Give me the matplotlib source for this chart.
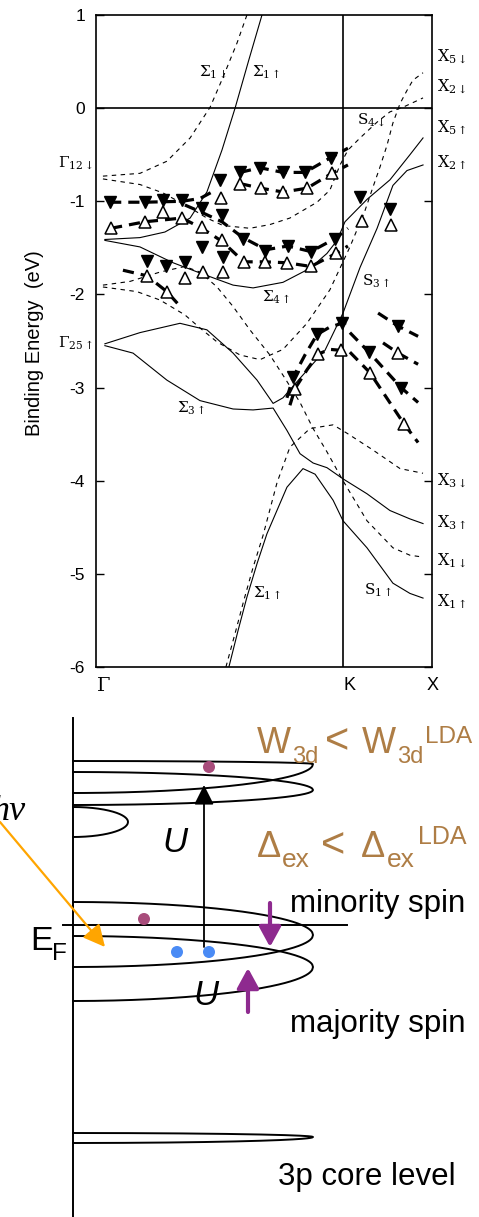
import numpy as np
import matplotlib.pyplot as plt

plt.rcParams['font.family'] = ['Liberation Sans', 'DejaVu Sans']

# ---- band structure data (k: Gamma=0, K=1 ; binding energy in eV) ----
# majority (solid) bands
sig1_k = [0.036, 0.178, 0.279, 0.381, 0.449, 0.510, 0.563, 0.619, 0.672]
sig1_E = [-1.41, -1.39, -1.33, -1.18, -0.90, -0.45, 0.00, 0.52, 1.00]
sig4_k = [0.036, 0.178, 0.312, 0.421, 0.555, 0.636, 0.757, 0.866, 0.935, 0.976, 1.008, 1.097, 1.190, 1.271, 1.324]
sig4_E = [-1.42, -1.49, -1.66, -1.77, -1.90, -1.93, -1.87, -1.72, -1.56, -1.42, -1.22, -0.98, -0.77, -0.50, -0.32]
sig3a_k = [0.036, 0.178, 0.340, 0.449, 0.555, 0.652, 0.717, 0.757, 0.826, 0.927, 1.0, 1.069, 1.138, 1.202, 1.259, 1.324]
sig3a_E = [-2.53, -2.41, -2.31, -2.38, -2.63, -2.92, -3.17, -3.11, -2.90, -2.60, -2.20, -1.71, -1.29, -0.83, -0.67, -0.61]
sig3b_k = [0.036, 0.150, 0.287, 0.421, 0.555, 0.636, 0.717, 0.773, 0.826, 0.879, 0.935, 1.0, 1.097, 1.190, 1.271, 1.324]
sig3b_E = [-2.55, -2.63, -2.92, -3.14, -3.23, -3.24, -3.22, -3.46, -3.71, -3.81, -3.86, -3.98, -4.14, -4.32, -4.41, -4.46]
sig1low_k = [0.538, 0.575, 0.611, 0.652, 0.692, 0.773, 0.838, 0.887, 0.960, 1.0, 1.097, 1.202, 1.271, 1.324]
sig1low_E = [-6.0, -5.61, -5.25, -4.89, -4.57, -4.07, -3.87, -3.93, -4.21, -4.43, -4.72, -5.10, -5.21, -5.26]

# minority (dashed) bands
d1_k = [0.028, 0.178, 0.287, 0.381, 0.462, 0.514, 0.571, 0.611]
d1_E = [-0.73, -0.70, -0.57, -0.32, 0.01, 0.33, 0.70, 1.0]
d2_k = [0.028, 0.178, 0.271, 0.381, 0.449, 0.514, 0.623, 0.704, 0.785, 0.895, 0.947, 0.988, 1.020, 1.069, 1.138, 1.190, 1.243, 1.324]
d2_E = [-0.76, -0.82, -0.91, -1.07, -1.18, -1.26, -1.29, -1.25, -1.18, -1.01, -0.88, -0.61, -0.45, -0.32, -0.15, -0.04, 0.01, 0.11]
d3_k = [0.028, 0.166, 0.259, 0.360, 0.421, 0.490, 0.583, 0.664, 0.757, 0.854, 0.947, 1.028, 1.089, 1.121, 1.150, 1.178, 1.202, 1.231, 1.259, 1.283, 1.324]
d3_E = [-1.92, -1.97, -2.06, -2.22, -2.36, -2.51, -2.65, -2.70, -2.59, -2.31, -1.95, -1.49, -1.10, -0.85, -0.63, -0.40, -0.16, 0.05, 0.19, 0.30, 0.38]
d4_k = [0.028, 0.138, 0.259, 0.360, 0.421, 0.490, 0.555, 0.623, 0.704, 0.765, 0.826, 0.879, 0.935, 1.0, 1.097, 1.202, 1.271, 1.324]
d4_E = [-1.90, -1.86, -1.76, -1.70, -1.76, -1.92, -2.13, -2.38, -2.65, -2.90, -3.16, -3.44, -3.69, -4.00, -4.43, -4.72, -4.80, -4.82]
d5_k = [0.526, 0.567, 0.599, 0.636, 0.676, 0.733, 0.785, 0.866, 0.960, 1.016, 1.121, 1.231, 1.324]
d5_E = [-6.0, -5.60, -5.28, -4.93, -4.59, -4.02, -3.64, -3.44, -3.40, -3.49, -3.67, -3.87, -3.92]

solid_bands = [(sig1_k, sig1_E), (sig4_k, sig4_E), (sig3a_k, sig3a_E), (sig3b_k, sig3b_E), (sig1low_k, sig1low_E)]
dashed_bands = [(d1_k, d1_E), (d2_k, d2_E), (d3_k, d3_E), (d4_k, d4_E), (d5_k, d5_E)]

# experimental points: filled = minority, open = majority
min_k = [0.057, 0.198, 0.271, 0.348, 0.429, 0.502, 0.510, 0.583, 0.664, 0.757, 0.846, 0.951,
         0.429, 0.514, 0.595, 0.684, 0.777, 0.870, 0.968, 0.206, 0.283, 0.360,
         1.069, 1.190, 0.798, 0.895, 0.996, 1.105, 1.223, 1.235]
min_E = [-1.01, -1.01, -0.99, -0.99, -1.07, -0.77, -1.15, -0.69, -0.64, -0.69, -0.69, -0.53,
         -1.49, -1.60, -1.40, -1.53, -1.48, -1.54, -1.40, -1.64, -1.69, -1.65,
         -0.95, -1.08, -2.89, -2.43, -2.31, -2.62, -2.34, -3.00]
maj_k = [0.061, 0.198, 0.271, 0.348, 0.429, 0.506, 0.583, 0.668, 0.757, 0.854, 0.955,
         0.510, 0.599, 0.684, 0.773, 0.870, 0.972, 0.206, 0.287, 0.360, 0.433, 0.514,
         1.077, 1.194, 0.806, 0.899, 0.992, 1.109, 1.223, 1.247]
maj_E = [-1.29, -1.22, -1.11, -1.18, -1.28, -0.96, -0.81, -0.86, -0.90, -0.86, -0.70,
         -1.42, -1.65, -1.65, -1.66, -1.70, -1.56, -1.80, -1.97, -1.82, -1.76, -1.76,
         -1.21, -1.25, -3.01, -2.64, -2.60, -2.84, -2.63, -3.39]

# thick dashed guides through the data
guides = [
    ([0.057, 0.198, 0.348, 0.421, 0.470], [-1.01, -1.01, -1.00, -0.97, -0.90]),
    ([0.583, 0.664, 0.757, 0.846, 0.951, 1.020], [-0.69, -0.64, -0.69, -0.69, -0.53, -0.43]),
    ([0.583, 0.668, 0.757, 0.854, 0.955, 1.020], [-0.81, -0.86, -0.90, -0.86, -0.70, -0.61]),
    ([0.061, 0.198, 0.348, 0.429, 0.510, 0.599, 0.684, 0.773, 0.870, 0.972, 1.020],
     [-1.29, -1.22, -1.18, -1.29, -1.43, -1.65, -1.65, -1.66, -1.70, -1.56, -1.48]),
    ([0.360, 0.429, 0.510, 0.595, 0.688, 0.777, 0.870, 0.968, 1.020],
     [-1.04, -1.12, -1.22, -1.39, -1.52, -1.48, -1.54, -1.40, -1.29]),
    ([0.109, 0.206, 0.287, 0.348], [-1.74, -1.80, -1.97, -2.15]),
    ([0.773, 0.798, 0.846, 0.895, 0.947, 0.996, 1.028], [-3.11, -2.89, -2.65, -2.43, -2.35, -2.31, -2.30]),
    ([0.785, 0.806, 0.854, 0.899, 0.947, 0.992], [-3.19, -3.01, -2.81, -2.64, -2.59, -2.60]),
    ([1.028, 1.105, 1.235, 1.304], [-2.41, -2.62, -3.00, -3.16]),
    ([1.028, 1.109, 1.247, 1.304], [-2.62, -2.84, -3.39, -3.59]),
    ([1.142, 1.223, 1.304], [-2.20, -2.34, -2.45]),
    ([1.162, 1.223, 1.304], [-2.52, -2.63, -2.75]),
]

y_ticks = [1, 0, -1, -2, -3, -4, -5, -6]
y_ticklabels = ['1', '0', '-1', '-2', '-3', '-4', '-5', '-6']

right_labels = [(r'$\mathrm{X}_{5\downarrow}$', 0.55), (r'$\mathrm{X}_{2\downarrow}$', 0.23),
                (r'$\mathrm{X}_{5\uparrow}$', -0.21), (r'$\mathrm{X}_{2\uparrow}$', -0.59),
                (r'$\mathrm{X}_{3\downarrow}$', -4.0), (r'$\mathrm{X}_{3\uparrow}$', -4.45),
                (r'$\mathrm{X}_{1\downarrow}$', -4.86), (r'$\mathrm{X}_{1\uparrow}$', -5.30)]
inner_labels = [(r'$\Sigma_{1\downarrow}$', 0.474, 0.38), (r'$\Sigma_{1\uparrow}$', 0.690, 0.38),
                (r'$\mathrm{S}_{4\downarrow}$', 1.113, -0.13), (r'$\Sigma_{4\uparrow}$', 0.729, -2.03),
                (r'$\mathrm{S}_{3\uparrow}$', 1.134, -1.86), (r'$\Sigma_{3\uparrow}$', 0.385, -3.22),
                (r'$\Sigma_{1\uparrow}$', 0.692, -5.21), (r'$\mathrm{S}_{1\uparrow}$', 1.142, -5.18)]

fig = plt.figure(figsize=(4.79, 12.17), dpi=100)
ax = fig.add_axes([96 / 479, 550 / 1217, 336 / 479, 652 / 1217])

for kk, ee in solid_bands:
    ax.plot(kk, ee, color='k', lw=0.8)
for kk, ee in dashed_bands:
    ax.plot(kk, ee, color='k', lw=0.8, dashes=(4, 4))
for kk, ee in guides:
    ax.plot(kk, ee, color='k', lw=2.3, dashes=(3.5, 2.2))
ax.plot(min_k, min_E, 'v', ms=9, mfc='k', mec='k', mew=1.0, ls='none', zorder=4)
ax.plot(maj_k, maj_E, '^', ms=9, mfc='white', mec='k', mew=1.1, ls='none', zorder=4)

ax.axhline(0, color='k', lw=1.2)
ax.axvline(1.0, color='k', lw=1.2)
ax.set_xlim(0, 1.3603)
ax.set_ylim(-6, 1)
ax.set_xticks([])
ax.set_yticks(y_ticks)
ax.set_yticklabels(y_ticklabels, fontsize=12.5)
ax.tick_params(axis='y', direction='in', length=6, width=1, pad=8, right=True)
for sp in ax.spines.values():
    sp.set_linewidth(1.2)

ax.text(-0.25, -2.52, 'Binding Energy  (eV)', rotation=90, ha='center', va='center',
        fontsize=14.5)
for s, e in right_labels:
    ax.text(1.381, e, s, ha='left', va='center', fontsize=11.5, math_fontfamily='dejavuserif')
for s, k, e in inner_labels:
    ax.text(k, e, s, ha='center', va='center', fontsize=11, math_fontfamily='dejavuserif')
ax.text(-0.012, -0.59, r'$\Gamma_{12\downarrow}$', ha='right', va='center', fontsize=11,
        math_fontfamily='dejavuserif')
ax.text(-0.012, -2.52, r'$\Gamma_{25\uparrow}$', ha='right', va='center', fontsize=11,
        math_fontfamily='dejavuserif')
ax.text(0.0, -6.2, r'$\Gamma$', ha='left', va='center', fontsize=14, math_fontfamily='dejavuserif')
ax.text(1.0, -6.2, 'K', ha='left', va='center', fontsize=13)
ax.text(1.364, -6.2, 'X', ha='center', va='center', fontsize=13)

# ---- schematic density of states (figure pixel coordinates) ----
ax2 = fig.add_axes([0, 0, 1, 1])
ax2.set_xlim(0, 479)
ax2.set_ylim(1217, 0)
ax2.axis('off')
ax2.patch.set_visible(False)

axis_x = 73
axis_top = 718
# each lobe: top edge y at axis, tip y, bottom edge y at axis, tip x
lobe_top = [761, 772, 807, 902, 936, 1133]
lobe_tip = [764, 790, 822, 935, 967, 1137]
lobe_bot = [793, 805, 837, 967, 1001, 1143]
lobe_xtip = [313, 313, 128, 313, 313, 313]

ax2.plot([axis_x, axis_x], [axis_top, 1217], color='k', lw=1.4)
s = np.linspace(0, 1, 300)
shape = 1 - np.sqrt(1 - s ** 2)
for yt, yp, yb, xt in zip(lobe_top, lobe_tip, lobe_bot, lobe_xtip):
    xs = axis_x + (xt - axis_x) * s
    up = yt + (yp - yt) * shape
    lo = yb + (yp - yb) * shape
    ax2.plot(np.concatenate([xs, xs[::-1]]), np.concatenate([up, lo[::-1]]), color='k', lw=1.4)

ef_y = 925
ax2.plot([63, 347], [ef_y, ef_y], color='k', lw=1.4)

ax2.scatter([209, 144], [767, 919], s=75, color='#A84C7B', zorder=5, edgecolors='none')
ax2.scatter([177, 209], [952, 952], s=75, color='#4A8BF5', zorder=5, edgecolors='none')

ax2.annotate('', xy=(204, 785), xytext=(204, 947),
             arrowprops=dict(arrowstyle='-|>,head_length=0.6,head_width=0.3', mutation_scale=20,
                             lw=1.3, color='k', shrinkA=0, shrinkB=0))
ax2.annotate('', xy=(105, 947), xytext=(0, 822),
             arrowprops=dict(arrowstyle='-|>,head_length=0.6,head_width=0.3', mutation_scale=22,
                             lw=1.6, color='#FFA500', shrinkA=0, shrinkB=0))
purple = '#8E2A8F'
ax2.annotate('', xy=(270, 947), xytext=(270, 903),
             arrowprops=dict(arrowstyle='-|>,head_length=0.55,head_width=0.3', mutation_scale=22,
                             lw=3, color=purple, shrinkA=0, shrinkB=0))
ax2.annotate('', xy=(248, 968), xytext=(248, 1012),
             arrowprops=dict(arrowstyle='-|>,head_length=0.55,head_width=0.3', mutation_scale=22,
                             lw=3, color=purple, shrinkA=0, shrinkB=0))

brown = '#AE7D45'
ax2.text(257, 753, 'W', fontsize=26, color=brown, va='baseline')
ax2.text(292, 763, '3d', fontsize=17, color=brown, va='baseline')
ax2.text(325, 753, '<', fontsize=30, color=brown, va='baseline')
ax2.text(362, 753, 'W', fontsize=26, color=brown, va='baseline')
ax2.text(397, 763, '3d', fontsize=17, color=brown, va='baseline')
ax2.text(425, 743, 'LDA', fontsize=17.5, color=brown, va='baseline')
ax2.text(257, 857, 'Δ', fontsize=26, color=brown, va='baseline')
ax2.text(282, 867, 'ex', fontsize=19, color=brown, va='baseline')
ax2.text(321, 857, '<', fontsize=30, color=brown, va='baseline')
ax2.text(361, 857, 'Δ', fontsize=26, color=brown, va='baseline')
ax2.text(387, 867, 'ex', fontsize=19, color=brown, va='baseline')
ax2.text(418, 844, 'LDA', fontsize=18, color=brown, va='baseline')

ax2.text(162, 852, 'U', fontsize=25, style='italic', va='baseline')
ax2.text(193, 1005, 'U', fontsize=25, style='italic', va='baseline')
ax2.text(26, 820, 'hν', fontsize=26, style='italic', ha='right', va='baseline',
         family=['Liberation Serif', 'DejaVu Serif'])
ax2.text(30, 950, 'E', fontsize=24.5, va='baseline')
ax2.text(52, 960, 'F', fontsize=17.5, va='baseline')
ax2.text(290, 912, 'minority spin', fontsize=22.5, va='baseline')
ax2.text(290, 1032, 'majority spin', fontsize=22.5, va='baseline')
ax2.text(278, 1185, '3p core level', fontsize=22.5, va='baseline')

fig.savefig('out.png', dpi=100)
